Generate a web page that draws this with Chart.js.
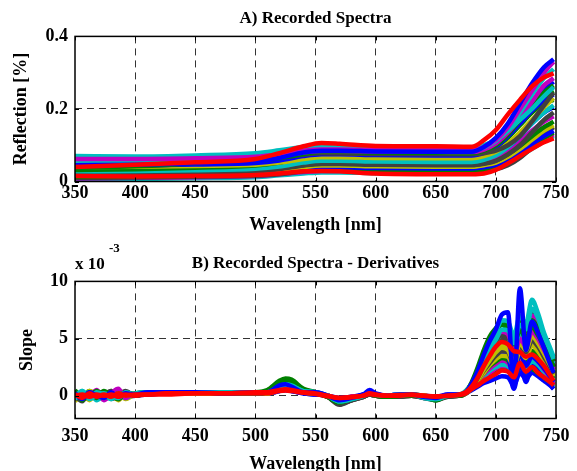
<!DOCTYPE html>
<html><head><meta charset="utf-8">
<script src="https://cdn.jsdelivr.net/npm/chart.js@4"></script>
<style>
html,body{margin:0;padding:0;background:#fff;overflow:hidden;}
#wrap{position:relative;width:577px;height:471px;overflow:hidden;}
.c{position:absolute;left:0;width:577px;}
</style></head><body>
<div id="wrap">
<div class="c" style="top:0;height:240px"><canvas id="chartA"></canvas></div>
<div class="c" style="top:240px;height:240px"><canvas id="chartB"></canvas></div>
</div>
<script>
// ---------- Panel A: recorded reflectance spectra ----------
const wavelengthsA = [350,400,450,500,520,540,555,570,600,650,680,690,700,710,720,730,740,748];
const xTicks = [350,400,450,500,550,600,650,700,750];
const yTicksA = [0,0.2,0.4];
const reflA01 = [0.040,0.046,0.053,0.062,0.078,0.097,0.106,0.104,0.098,0.097,0.096,0.114,0.142,0.185,0.225,0.262,0.287,0.298];
const reflA02 = [0.015,0.014,0.015,0.018,0.022,0.028,0.029,0.028,0.022,0.020,0.020,0.022,0.032,0.050,0.070,0.090,0.108,0.119];
const reflA03 = [0.045,0.046,0.050,0.055,0.065,0.080,0.085,0.085,0.083,0.082,0.082,0.095,0.120,0.160,0.215,0.270,0.315,0.337];
const reflA04 = [0.062,0.062,0.064,0.068,0.075,0.085,0.088,0.088,0.087,0.087,0.086,0.095,0.115,0.150,0.200,0.250,0.300,0.330];
const reflA05 = [0.070,0.069,0.072,0.078,0.086,0.095,0.098,0.097,0.096,0.095,0.094,0.100,0.115,0.140,0.170,0.200,0.235,0.260];
const reflA06 = [0.050,0.051,0.053,0.056,0.064,0.076,0.082,0.082,0.080,0.079,0.078,0.085,0.100,0.130,0.170,0.210,0.245,0.265];
const reflA07 = [0.055,0.055,0.057,0.060,0.066,0.074,0.078,0.077,0.076,0.075,0.075,0.078,0.085,0.100,0.125,0.165,0.210,0.245];
const reflA08 = [0.048,0.049,0.052,0.058,0.068,0.080,0.086,0.086,0.085,0.084,0.083,0.092,0.110,0.140,0.180,0.220,0.255,0.275];
const reflA09 = [0.032,0.034,0.038,0.044,0.052,0.066,0.072,0.072,0.070,0.069,0.069,0.076,0.092,0.120,0.155,0.190,0.215,0.225];
const reflA10 = [0.040,0.041,0.043,0.046,0.052,0.062,0.067,0.067,0.065,0.064,0.064,0.070,0.082,0.105,0.135,0.170,0.205,0.230];
const reflA11 = [0.038,0.042,0.050,0.058,0.066,0.078,0.083,0.083,0.081,0.080,0.080,0.088,0.105,0.135,0.170,0.205,0.235,0.250];
const reflA12 = [0.035,0.036,0.038,0.042,0.048,0.058,0.062,0.062,0.060,0.059,0.059,0.064,0.075,0.095,0.125,0.160,0.190,0.205];
const reflA13 = [0.030,0.031,0.033,0.036,0.041,0.050,0.054,0.054,0.052,0.051,0.051,0.056,0.066,0.085,0.110,0.140,0.165,0.180];
const reflA14 = [0.025,0.026,0.028,0.031,0.036,0.045,0.049,0.049,0.047,0.046,0.046,0.050,0.058,0.075,0.098,0.125,0.150,0.165];
const reflA15 = [0.020,0.021,0.023,0.026,0.031,0.040,0.044,0.044,0.042,0.041,0.041,0.045,0.052,0.068,0.090,0.115,0.140,0.155];
const reflA16 = [0.018,0.019,0.021,0.023,0.027,0.035,0.039,0.039,0.037,0.036,0.036,0.039,0.046,0.060,0.080,0.103,0.125,0.140];
const reflA17 = [0.010,0.011,0.013,0.016,0.020,0.028,0.031,0.031,0.029,0.028,0.028,0.030,0.034,0.045,0.065,0.095,0.130,0.150];
const reflA18 = [0.008,0.010,0.012,0.015,0.020,0.026,0.029,0.029,0.027,0.026,0.026,0.030,0.038,0.052,0.072,0.095,0.115,0.130];
const reflA19 = [0.005,0.007,0.009,0.012,0.017,0.022,0.025,0.025,0.023,0.022,0.022,0.026,0.034,0.048,0.068,0.090,0.110,0.125];
const reflA20 = [0.058,0.058,0.060,0.064,0.070,0.080,0.084,0.084,0.083,0.082,0.081,0.088,0.105,0.135,0.175,0.220,0.265,0.285];
const reflA21 = [0.028,0.029,0.031,0.035,0.041,0.052,0.057,0.057,0.055,0.054,0.054,0.060,0.072,0.095,0.125,0.160,0.190,0.210];
const reflA22 = [0.022,0.023,0.025,0.028,0.034,0.044,0.048,0.048,0.046,0.045,0.045,0.049,0.057,0.075,0.100,0.135,0.170,0.190];
const reflA23 = [0.052,0.053,0.056,0.062,0.070,0.084,0.090,0.090,0.088,0.087,0.086,0.094,0.112,0.145,0.190,0.240,0.285,0.310];
const reflA24 = [0.043,0.044,0.047,0.051,0.058,0.070,0.075,0.075,0.073,0.072,0.072,0.079,0.095,0.125,0.160,0.195,0.225,0.240];
const reflA25 = [0.013,0.014,0.016,0.019,0.024,0.032,0.035,0.035,0.032,0.031,0.031,0.034,0.042,0.056,0.076,0.098,0.120,0.135];

// ---------- Panel B: first derivatives (values in units of 10^-3) ----------
const wavelengthsB = [350,356,362,368,374,380,386,392,400,410,425,450,475,500,510,520,525,530,540,550,560,570,580,590,595,600,610,620,630,640,650,660,670,675,680,685,690,695,700,705,710,715,720,725,730,735,740,745,748];
const yTicksB = [0,5,10];
const slopeB01 = [0.1,-0.2,0.2,-0.1,0.1,-0.1,0.2,0.0,0.1, 0.1,0.2,0.2,0.2,0.3, 0.3,0.5,0.55,0.5,0.3,0.2, 0.0,-0.2,-0.1,0.0,0.2,0.1, 0.0,0.0,0.1,0.0,-0.1,0.0,0.1, 0.3,0.8,1.6,2.6,3.5,4.3, 4.7,4.5,3.9,3.8,3.4,3.6,3.2,2.6,1.8,1.3];
const slopeB02 = [0.0,0.1,-0.1,0.1,0.0,0.1,-0.1,0.1,0.0, 0.1,0.1,0.2,0.2,0.2, 0.2,0.4,0.45,0.4,0.25,0.15, -0.05,-0.2,-0.15,0.0,0.15,0.05, 0.0,0.05,0.05,0.0,-0.05,0.0,0.05, 0.2,0.6,0.9,1.3,1.6,1.9, 2.2,2.1,1.6,2.85,2.1,2.5,2.0,1.6,1.2,0.9];
const slopeB03 = [0.2,-0.3,0.3,0.0,-0.2,0.3,-0.1,0.2,0.1, 0.3,0.3,0.3,0.2,0.3, 0.3,0.9,1.0,0.8,0.3,0.3, 0.0,-0.4,-0.2,0.1,0.5,0.2, 0.0,0.1,0.1,-0.1,-0.2,0.1,0.1, 0.3,1.1,2.2,3.6,4.8,5.8, 7.1,7.3,0.7,9.4,4.0,6.5,5.5,4.2,2.8,2.0];
const slopeB04 = [-0.3,0.4,-0.2,0.3,0.1,-0.3,0.2,0.0,0.2, 0.3,0.3,0.3,0.3,0.3, 0.3,0.8,0.9,0.8,0.4,0.3, 0.0,-0.5,-0.3,0.0,0.3,0.1, 0.0,0.0,0.1,-0.2,-0.3,0.0,0.1, 0.4,1.0,2.0,3.3,4.6,5.6, 6.6,6.5,5.2,7.0,6.3,8.4,7.2,5.5,4.2,3.4];
const slopeB05 = [0.5,-0.4,0.3,-0.2,0.4,0.0,-0.3,0.3,0.1, 0.3,0.3,0.3,0.3,0.3, 0.5,1.3,1.5,1.4,0.6,0.3, -0.1,-0.6,-0.3,0.0,0.2,0.0, -0.1,0.0,0.0,-0.1,-0.4,0.0,0.0, 0.3,1.2,2.5,4.0,5.2,5.9, 6.5,6.0,4.5,5.8,5.0,6.0,5.3,4.3,3.2,2.5];
const slopeB06 = [-0.2,0.3,0.0,0.5,-0.3,0.2,0.6,-0.2,0.2, 0.2,0.3,0.3,0.3,0.3, 0.3,0.9,1.0,0.9,0.4,0.3, 0.0,-0.6,-0.3,0.0,0.2,0.1, 0.0,0.0,0.0,-0.1,-0.3,0.0,0.0, 0.3,1.0,2.0,3.2,4.3,5.1, 5.6,5.4,4.1,6.4,5.3,7.0,6.3,5.0,3.8,3.0];
const slopeB07 = [0.0,-0.5,0.3,-0.3,0.1,0.4,-0.2,0.1,0.0, 0.2,0.2,0.3,0.2,0.2, 0.3,0.7,0.8,0.7,0.3,0.2, -0.1,-0.8,-0.4,-0.1,0.1,0.0, -0.1,-0.1,0.0,-0.2,-0.3,-0.1,0.0, 0.2,0.7,1.6,2.7,3.7,4.5, 5.0,4.8,3.6,6.0,5.2,7.1,6.2,4.8,3.5,2.6];
const slopeB08 = [-0.5,0.2,-0.4,0.2,-0.1,0.1,0.3,-0.3,0.1, 0.2,0.2,0.2,0.2,0.2, 0.2,0.6,0.7,0.6,0.3,0.2, 0.0,-0.4,-0.2,0.0,0.2,0.0, 0.0,0.0,0.0,0.0,-0.2,0.0,0.0, 0.2,0.8,1.5,2.5,3.4,4.0, 4.5,4.3,3.2,5.2,4.6,6.2,5.6,4.4,3.3,2.5];
const slopeB09 = [0.3,0.0,-0.3,0.2,0.3,-0.2,0.1,0.2,0.0, 0.2,0.2,0.3,0.2,0.3, 0.3,0.6,0.65,0.6,0.3,0.2, 0.0,-0.3,-0.2,0.1,0.4,0.1, 0.0,0.1,0.1,0.0,-0.1,0.1,0.1, 0.3,0.9,1.5,2.3,3.0,3.4, 3.7,3.5,1.2,4.0,2.6,3.4,3.0,2.4,1.7,1.2];
const slopeB10 = [0.2,0.0,0.4,-0.3,0.2,-0.1,0.0,0.3,0.1, 0.2,0.2,0.2,0.2,0.2, 0.3,0.6,0.7,0.6,0.3,0.2, -0.1,-0.3,-0.2,0.0,0.1,0.0, 0.0,0.0,0.0,-0.1,-0.2,0.0,0.0, 0.2,0.7,1.3,2.0,2.6,3.0, 3.3,3.1,2.3,3.6,2.9,3.9,3.4,2.7,2.0,1.5];
const slopeB11 = [-0.1,0.2,-0.2,0.1,0.0,0.2,-0.1,0.0,0.1, 0.2,0.2,0.2,0.2,0.2, 0.2,0.5,0.6,0.5,0.3,0.2, 0.0,-0.3,-0.2,0.0,0.1,0.0, 0.0,0.0,0.0,0.0,-0.1,0.0,0.0, 0.2,0.6,1.1,1.7,2.2,2.5, 2.7,2.6,1.9,3.0,2.4,3.0,2.7,2.1,1.5,1.0];
const slopeB12 = [0.1,-0.1,0.1,0.3,-0.1,0.0,0.2,-0.1,0.1, 0.2,0.2,0.2,0.2,0.2, 0.2,0.5,0.5,0.5,0.3,0.2, 0.0,-0.3,-0.1,0.0,0.1,0.0, 0.0,0.0,0.0,0.0,-0.1,0.0,0.0, 0.2,0.7,1.2,1.9,2.4,2.8, 3.1,2.9,2.1,3.4,2.8,3.4,3.0,2.3,1.6,1.0];
const slopeB13 = [0.0,0.3,-0.1,-0.2,0.2,0.1,0.0,-0.1,0.0, 0.1,0.2,0.2,0.2,0.2, 0.2,0.4,0.5,0.4,0.2,0.1, 0.0,-0.3,-0.2,0.1,0.3,0.1, 0.0,0.05,0.05,-0.1,-0.1,0.0,0.0, 0.2,0.6,1.2,1.8,2.3,2.6, 2.8,2.6,0.6,3.0,1.2,2.8,2.4,1.8,1.0,0.6];
const slopeB14 = [0.1,0.3,-0.2,0.0,0.2,-0.1,0.1,0.2,0.1, 0.2,0.2,0.2,0.2,0.2, 0.2,0.5,0.6,0.5,0.3,0.2, 0.0,-0.3,-0.2,0.0,0.2,0.0, 0.0,0.0,0.1,0.0,-0.2,0.0,0.0, 0.2,0.6,1.0,1.5,1.9,2.2, 2.4,2.3,1.4,2.5,2.0,2.3,2.0,1.6,1.1,0.8];
const slopeB15 = [-0.2,0.1,0.3,-0.4,0.0,0.3,0.1,-0.2,0.2, 0.3,0.3,0.3,0.3,0.3, 0.3,0.9,1.1,1.0,0.4,0.3, 0.0,-0.5,-0.3,0.0,0.3,0.1, 0.0,0.1,0.1,-0.1,-0.3,0.0,0.1, 0.3,0.9,1.8,2.9,3.9,4.7, 5.4,5.2,4.0,5.6,5.0,6.4,5.8,4.6,3.5,2.8];
const slopeB16 = [0.4,-0.1,0.0,0.2,-0.4,0.1,0.3,0.0,0.1, 0.2,0.3,0.3,0.3,0.3, 0.3,1.0,1.2,1.1,0.5,0.3, -0.1,-0.6,-0.3,0.0,0.2,0.0, 0.0,0.0,0.0,-0.1,-0.3,0.0,0.0, 0.3,0.9,1.7,2.7,3.6,4.3, 4.8,4.6,3.4,5.0,4.3,5.6,5.0,4.0,3.0,2.3];
const slopeB17 = [-0.4,0.2,0.1,-0.2,0.3,-0.3,0.0,0.4,0.0, 0.2,0.2,0.2,0.2,0.2, 0.2,0.7,0.8,0.7,0.3,0.2, -0.1,-0.7,-0.4,-0.1,0.1,0.0, -0.1,0.0,0.0,-0.1,-0.3,0.0,0.0, 0.2,0.8,1.4,2.2,2.9,3.5, 3.9,3.8,2.8,4.4,3.8,4.8,4.3,3.4,2.5,1.9];
const slopeB18 = [0.2,-0.3,0.4,0.1,-0.2,0.2,-0.4,0.1,0.1, 0.2,0.2,0.2,0.2,0.2, 0.2,0.6,0.7,0.6,0.3,0.2, 0.0,-0.4,-0.2,0.0,0.2,0.0, 0.0,0.0,0.0,0.0,-0.2,0.0,0.0, 0.2,0.7,1.3,2.0,2.7,3.2, 3.5,3.4,2.6,3.9,3.3,4.4,3.9,3.1,2.3,1.7];
const slopeB19 = [0.0,0.2,0.0,-0.1,0.1,0.3,-0.2,0.0,0.1, 0.1,0.2,0.2,0.2,0.2, 0.2,0.4,0.5,0.4,0.2,0.1, 0.0,-0.2,-0.1,0.1,0.3,0.1, 0.0,0.1,0.05,0.0,-0.1,0.0,0.0, 0.2,0.5,0.8,1.1,1.3,1.5, 1.7,1.6,0.9,2.0,1.5,2.0,1.7,1.3,0.9,0.6];
const slopeB20 = [0.3,-0.2,-0.1,0.4,0.0,-0.2,0.2,0.1,0.2, 0.3,0.3,0.3,0.3,0.3, 0.4,1.1,1.3,1.2,0.5,0.3, -0.1,-0.6,-0.3,0.0,0.2,0.0, -0.1,0.0,0.0,-0.1,-0.4,0.0,0.0, 0.4,1.1,2.3,3.8,4.9,5.6, 6.2,5.8,4.9,6.6,5.7,6.6,5.9,4.8,3.7,3.0];
const slopeB21 = [-0.1,0.4,-0.3,0.1,0.2,0.0,-0.2,0.3,0.1, 0.3,0.3,0.3,0.3,0.3, 0.3,0.8,1.0,0.9,0.4,0.3, 0.0,-0.5,-0.3,0.0,0.3,0.1, 0.0,0.1,0.1,-0.1,-0.3,0.0,0.1, 0.3,1.0,1.9,3.0,4.0,4.9, 5.8,5.7,4.6,6.2,5.8,7.6,6.8,5.2,4.0,3.2];
const slopeB22 = [0.2,0.0,0.1,-0.3,0.1,0.2,0.0,-0.2,0.1, 0.2,0.2,0.2,0.2,0.2, 0.2,0.5,0.5,0.5,0.3,0.2, 0.0,-0.3,-0.1,0.0,0.2,0.0, 0.0,0.0,0.0,0.0,-0.1,0.0,0.0, 0.2,0.6,1.1,1.6,2.0,2.4, 2.6,2.5,1.8,2.9,2.4,2.8,2.5,1.9,1.3,0.9];
const slopeB23 = [-0.3,0.1,0.2,0.0,-0.1,0.4,-0.3,0.2,0.0, 0.2,0.2,0.3,0.2,0.2, 0.3,0.8,0.9,0.8,0.3,0.2, -0.1,-0.7,-0.4,-0.1,0.1,0.0, -0.1,-0.1,0.0,-0.2,-0.4,-0.1,0.0, 0.3,0.9,1.8,2.9,4.0,4.8, 5.3,5.1,4.4,6.4,5.6,7.4,6.6,5.2,3.9,3.0];
const slopeB24 = [0.1,0.3,-0.2,0.2,-0.2,0.0,0.4,-0.1,0.1, 0.2,0.2,0.2,0.2,0.2, 0.2,0.6,0.7,0.6,0.3,0.2, 0.0,-0.4,-0.2,0.0,0.2,0.0, 0.0,0.0,0.0,0.0,-0.2,0.0,0.0, 0.2,0.7,1.4,2.3,3.1,3.8, 4.2,4.0,3.0,4.6,4.0,5.2,4.6,3.7,2.7,2.1];

// MATLAB default line colours
const C = {b:'#0000FF', g:'#008000', r:'#FF0000', c:'#00BFBF', m:'#BF00BF', y:'#BFBF00', k:'#404040'};

// first entries are drawn on top
const seriesA = [
  [reflA01,C.r],[reflA02,C.r],[reflA03,C.b],[reflA04,C.m],[reflA23,C.c],[reflA05,C.c],[reflA20,C.m],
  [reflA06,C.g],[reflA08,C.b],[reflA07,C.k],[reflA11,C.g],[reflA24,C.b],[reflA10,C.y],[reflA09,C.g],
  [reflA21,C.c],[reflA12,C.b],[reflA22,C.k],[reflA13,C.m],[reflA14,C.g],[reflA15,C.y],[reflA16,C.b],
  [reflA25,C.g],[reflA17,C.k],[reflA18,C.m],[reflA19,C.c]
];
const seriesB = [
  [slopeB01,C.r],[slopeB02,C.r],[slopeB03,C.b],[slopeB04,C.c],[slopeB21,C.c],[slopeB05,C.g],
  [slopeB20,C.g],[slopeB06,C.m],[slopeB23,C.k],[slopeB15,C.c],[slopeB07,C.k],[slopeB16,C.m],
  [slopeB08,C.y],[slopeB24,C.y],[slopeB17,C.k],[slopeB18,C.y],[slopeB09,C.b],[slopeB10,C.g],
  [slopeB12,C.m],[slopeB11,C.c],[slopeB13,C.b],[slopeB22,C.m],[slopeB14,C.g],[slopeB19,C.b]
];

const FONT = "'Liberation Serif','Times New Roman',serif";
const DASH = [7,5];

function makeDatasets(xs, series) {
  return series.map(([vals, col]) => ({
    data: vals.map((v, i) => ({x: xs[i], y: v})),
    borderColor: col, backgroundColor: col, borderWidth: 4.5,
    pointRadius: 0, fill: false, cubicInterpolationMode: 'monotone'
  }));
}

const boxPlugin = {
  id: 'box',
  afterDatasetsDraw(chart) {
    const {ctx, chartArea: a, scales: {x, y}} = chart;
    ctx.save();
    ctx.setLineDash([]);
    ctx.strokeStyle = '#000';
    ctx.lineWidth = 1;
    ctx.beginPath();
    x.ticks.forEach(t => {
      const p = Math.round(x.getPixelForValue(t.value)) + 0.5;
      ctx.moveTo(p, a.bottom); ctx.lineTo(p, a.bottom - 4);
      ctx.moveTo(p, a.top); ctx.lineTo(p, a.top + 4);
    });
    y.ticks.forEach(t => {
      const p = Math.round(y.getPixelForValue(t.value)) + 0.5;
      ctx.moveTo(a.left, p); ctx.lineTo(a.left + 4, p);
      ctx.moveTo(a.right, p); ctx.lineTo(a.right - 4, p);
    });
    ctx.stroke();
    ctx.lineWidth = 1.5;
    ctx.strokeRect(a.left, a.top, a.right - a.left, a.bottom - a.top);
    ctx.restore();
  }
};

const exponentPlugin = {
  id: 'exponent',
  afterDraw(chart) {
    const ctx = chart.ctx;
    ctx.save();
    ctx.fillStyle = '#000';
    ctx.textAlign = 'left';
    ctx.textBaseline = 'alphabetic';
    ctx.font = "bold 17px " + FONT;
    ctx.fillText('x 10', 75, 28.5);
    ctx.font = "bold 13px " + FONT;
    ctx.fillText('-3', 109, 12);
    ctx.restore();
  }
};

function buildOptions(cfg) {
  const edgeX = v => v === 350 || v === 750;
  return {
    responsive: true, maintainAspectRatio: false, animation: false,
    layout: {padding: {left: 0, right: 21, top: 0, bottom: 0}},
    plugins: {
      legend: {display: false}, tooltip: {enabled: false},
      title: {display: true, text: cfg.title, color: '#000', fullSize: false,
        font: {family: FONT, size: 17, weight: 'bold'},
        padding: {top: cfg.titleTop, bottom: cfg.titleBottom}}
    },
    scales: {
      x: {
        type: 'linear', min: 350, max: 750,
        afterBuildTicks: s => { s.ticks = xTicks.map(v => ({value: v})); },
        afterFit: s => { s.height = cfg.xHeight; },
        ticks: {color: '#000', font: {family: FONT, size: 18, weight: 'bold'}, padding: cfg.xTickPad, maxRotation: 0, autoSkip: false},
        grid: {color: c => (c.tick && edgeX(c.tick.value)) ? 'rgba(0,0,0,0)' : '#333', lineWidth: 1, drawTicks: false},
        border: {display: false, dash: DASH},
        title: {display: true, text: 'Wavelength [nm]', color: '#000',
          font: {family: FONT, size: 18, weight: 'bold'}, padding: {top: 0, bottom: cfg.xTitlePad}}
      },
      y: {
        min: cfg.yMin, max: cfg.yMax,
        afterBuildTicks: s => { s.ticks = cfg.yTicks.map(v => ({value: v})); },
        afterFit: s => { s.width = 75; },
        ticks: {color: '#000', font: {family: FONT, size: 18, weight: 'bold'}, padding: 7},
        grid: {color: c => (c.tick && (c.tick.value === cfg.yMin || c.tick.value === cfg.yMax)) ? 'rgba(0,0,0,0)' : '#333', lineWidth: 1, drawTicks: false},
        border: {display: false, dash: DASH},
        title: {display: true, text: cfg.yTitle, color: '#000',
          font: {family: FONT, size: 18, weight: 'bold'}, padding: {top: cfg.yTitlePad, bottom: 0}}
      }
    }
  };
}

new Chart(document.getElementById('chartA'), {
  type: 'line',
  data: {datasets: makeDatasets(wavelengthsA, seriesA)},
  options: buildOptions({title: 'A) Recorded Spectra', titleTop: 8, titleBottom: 8,
    xHeight: 58.5, xTickPad: 1, xTitlePad: 4, yMin: 0, yMax: 0.4, yTicks: yTicksA,
    yTitle: 'Reflection [%]', yTitlePad: 11}),
  plugins: [boxPlugin]
});

new Chart(document.getElementById('chartB'), {
  type: 'line',
  data: {datasets: makeDatasets(wavelengthsB, seriesB)},
  options: buildOptions({title: 'B) Recorded Spectra - Derivatives', titleTop: 13, titleBottom: 8,
    xHeight: 61.5, xTickPad: 7, xTitlePad: 5, yMin: -2, yMax: 10, yTicks: yTicksB,
    yTitle: 'Slope', yTitlePad: 17}),
  plugins: [boxPlugin, exponentPlugin]
});
</script>
</body></html>
